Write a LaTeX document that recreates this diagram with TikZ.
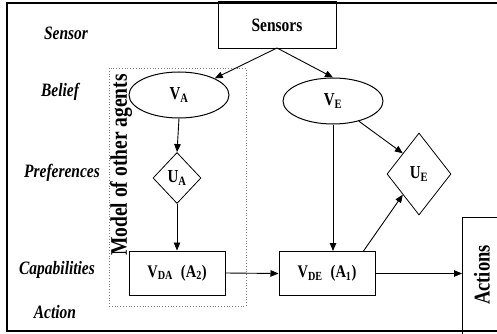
\documentclass[tikz,border=0pt]{standalone}
\usepackage{fontspec}
\usepackage{graphicx}
\setmainfont{Liberation Serif}
\usetikzlibrary{shapes.geometric,arrows.meta}
% taller lettering, as in the printed figure
\newcommand\tallt[1]{\scalebox{1}[1.22]{#1}}
\tikzset{
  lvl/.style={font=\fontsize{15.5}{18}\selectfont\bfseries\itshape, anchor=center},
  vbox/.style={draw, line width=1pt, minimum width=96pt, minimum height=44pt, inner sep=0pt,
               font=\fontsize{14.5}{16}\selectfont\bfseries},
  vell/.style={draw, ellipse, line width=1pt, minimum width=100pt, minimum height=46pt, inner sep=0pt,
               font=\fontsize{15}{16}\selectfont\bfseries},
  vdia/.style={draw, diamond, line width=0.8pt, inner sep=0pt,
               font=\fontsize{15}{16}\selectfont\bfseries},
  arr/.style={line width=0.9pt, -{Triangle[length=8pt,width=6.5pt]}},
  vtext/.style={rotate=90, font=\fontsize{19.5}{20}\selectfont\bfseries}
}
\begin{document}
\begin{tikzpicture}[x=1pt,y=-1pt]
\useasboundingbox (0,0) rectangle (497,334);
\clip (0,0) rectangle (497,334);
% outer frame
\draw[line width=2pt] (7,3) rectangle (540,331);
% level labels
\node[lvl] (lsen) at (66,33) {\tallt{Sensor}};
\node[lvl] (lbel) at (60,92) {\tallt{Belief}};
\node[lvl] (lpre) at (62,173) {\tallt{Preferences}};
\node[lvl] (lcap) at (57,270) {\tallt{Capabilities}};
\node[lvl] (lact) at (55,312) {\tallt{Action}};
% model of other agents
\draw[dotted, gray, line width=0.8pt] (109,68) rectangle (246,306);
\node[vtext] (model) at (121,165) {\tallt{Model of other agents}};
% nodes
\node[draw, line width=1pt, minimum width=118pt, minimum height=47pt, inner sep=0pt,
      font=\fontsize{15.5}{18}\selectfont\bfseries] (sens) at (277,25.5) {\tallt{Sensors}};
\node[vell] (va) at (179,95) {\tallt{V\textsubscript{A}}};
\node[vell] (ve) at (333,101) {\tallt{V\textsubscript{E}}};
\node[vdia, minimum width=48pt, minimum height=51pt] (ua) at (177,178) {\tallt{U\textsubscript{A}}};
\node[vdia, minimum width=64pt, minimum height=82pt] (ue) at (419,174) {\tallt{U\textsubscript{E}}};
\node[vbox] (vda) at (177,273) {\tallt{V\textsubscript{DA}\hspace{8pt}(A\textsubscript{2})}};
\node[vbox] (vde) at (327,273.5) {\tallt{V\textsubscript{DE}\hspace{8pt}(A\textsubscript{1})}};
\node[draw, line width=1pt, minimum width=60pt, minimum height=130pt, anchor=north west, inner sep=0pt] (actb) at (462,217) {};
\node[rotate=90, font=\fontsize{18.5}{20}\selectfont\bfseries] (actt) at (482,275) {\tallt{Actions}};
% connectors
\coordinate (sbot) at (277,48);
\draw[arr] (sbot) -- (va.north east);
\draw[arr] (sbot) -- (ve.north);
\draw[arr] (va.south) -- (ua.north);
\draw[arr] (ua.south) -- (vda.north);
\draw[arr] (ve.south) -- (vde.north -| ve.south);
\draw[arr] (ve.-38) -- (ue.north west);
\draw[arr] (vda.east) -- (vde.west);
\draw[arr] (vde.east) -- (actb.west |- vde.east);
\draw[arr] (vde.north east) ++(-12,0) -- (ue.south west);
\end{tikzpicture}
\end{document}
